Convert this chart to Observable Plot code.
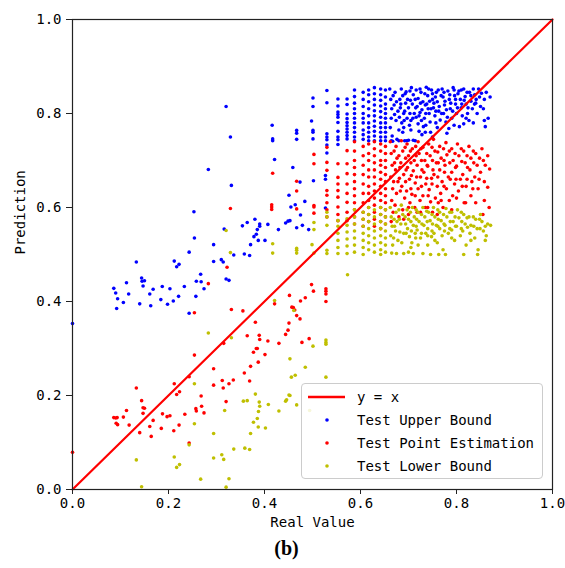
<!DOCTYPE html>
<html>
<head>
<meta charset="utf-8">
<script src="https://cdn.jsdelivr.net/npm/d3@7"></script>
<script src="https://cdn.jsdelivr.net/npm/@observablehq/plot@0.6"></script>
<style>
  body { margin: 0; background: #fff; }
  #wrap { position: relative; width: 565px; height: 568px; }
  #legend { position: absolute; left: 301px; top: 383px; width: 242px; height: 96px;
    border: 1px solid #cccccc; border-radius: 4px; background: rgba(255,255,255,0.85);
    font-family: "DejaVu Sans Mono", monospace; font-size: 14px; color: #000; box-sizing: border-box; }
  .item { position: absolute; left: 0; height: 20px; width: 240px; }
  .item svg { position: absolute; left: 0; top: 0; }
  .item span { position: absolute; left: 55px; top: 1px; line-height: 18px; white-space: pre; }
  #caption { position: absolute; left: 0; top: 537px; width: 573px; text-align: center;
    font-family: "Liberation Serif", "DejaVu Serif", serif; font-weight: bold; font-size: 20px; }
</style>
</head>
<body>
<div id="wrap"></div>
<script>
// ---- data ----
const ticks = [0, 0.2, 0.4, 0.6, 0.8, 1.0];
const identityLine = [0, 1];
const seriesNames = ["y = x", "Test Upper Bound", "Test Point Estimation", "Test Lower Bound"];
const seriesColors = ["#ff0000", "#0000ff", "#ff0000", "#bfbf00"];
const axisLabels = ["Real Value", "Prediction"];
const captionText = "(b)";

const upperBound = [
[0,0.353],
[0.086,0.428],[0.090,0.418],[0.094,0.406],[0.092,0.385],[0.106,0.398],[0.1125,0.440],[0.117,0.416],[0.133,0.484],[0.144,0.450],[0.145,0.443],[0.150,0.444],[0.147,0.433],[0.140,0.395],[0.161,0.416],[0.163,0.391],[0.168,0.426],[0.187,0.432],[0.184,0.404],[0.198,0.394],[0.203,0.427],[0.210,0.401],[0.212,0.486],[0.217,0.474],[0.222,0.479],[0.221,0.411],[0.233,0.432],[0.243,0.505],[0.243,0.375],[0.253,0.591],[0.254,0.535],[0.258,0.443],[0.257,0.411],[0.267,0.458],[0.268,0.442],[0.274,0.427],[0.283,0.681],[0.294,0.521],[0.294,0.485],[0.310,0.489],[0.314,0.484],[0.316,0.554],[0.320,0.815],[0.320,0.448],[0.326,0.445],[0.329,0.750],[0.331,0.647],[0.336,0.499],[0.354,0.561],[0.358,0.501],[0.364,0.568],[0.369,0.498],[0.371,0.521],[0.380,0.575],[0.378,0.538],[0.383,0.543],[0.385,0.553],[0.387,0.530],[0.390,0.565],[0.390,0.560],[0.401,0.530],[0.407,0.564],[0.416,0.775],[0.417,0.746],[0.417,0.742],[0.421,0.702],[0.429,0.553],[0.444,0.567],[0.449,0.571],[0.453,0.572],[0.451,0.626],[0.455,0.601],[0.464,0.606],[0.459,0.685],[0.467,0.764],[0.467,0.758],[0.467,0.745],[0.467,0.557],[0.475,0.584],[0.474,0.654],[0.479,0.562],[0.484,0.613],[0.492,0.553],[0.498,0.784],[0.501,0.833],[0.501,0.815],[0.501,0.764],[0.501,0.760],[0.501,0.746],[0.502,0.657],[0.527,0.668],[0.527,0.660],[0.527,0.599],
[0.53,0.849],[0.53,0.823],[0.53,0.757],[0.53,0.750],[0.53,0.744],[0.53,0.733],[0.53,0.716],
[0.553,0.831],[0.553,0.816],[0.553,0.803],[0.553,0.798],[0.553,0.792],[0.553,0.781],[0.553,0.762],[0.553,0.750],[0.553,0.744],[0.553,0.734],
[0.572,0.831],[0.572,0.819],[0.572,0.799],[0.572,0.789],[0.572,0.781],[0.572,0.774],[0.572,0.767],[0.572,0.760],[0.572,0.753],[0.572,0.746],
[0.5875,0.85],[0.5875,0.836],[0.5875,0.822],[0.5875,0.81],[0.5875,0.80],[0.5875,0.79],[0.5875,0.78],[0.5875,0.77],[0.5875,0.76],[0.5875,0.75],[0.5875,0.742],
[0.6056,0.845],[0.6056,0.83],[0.6056,0.815],[0.6056,0.80],[0.6056,0.79],[0.6056,0.78],[0.6056,0.765],[0.6056,0.755],[0.6056,0.745],
[0.617,0.85],[0.617,0.84],[0.617,0.825],[0.617,0.81],[0.617,0.795],[0.617,0.78],[0.617,0.77],[0.617,0.76],[0.617,0.75],[0.617,0.742],
[0.629,0.855],[0.629,0.842],[0.629,0.83],[0.629,0.818],[0.629,0.806],[0.629,0.795],[0.629,0.784],[0.629,0.773],[0.629,0.762],[0.629,0.752],[0.629,0.742],
[0.642,0.852],[0.642,0.84],[0.642,0.828],[0.642,0.816],[0.642,0.804],[0.642,0.792],[0.642,0.78],[0.642,0.77],[0.642,0.76],[0.642,0.75],[0.642,0.742],
[0.652,0.85],[0.652,0.835],[0.652,0.82],[0.652,0.81],[0.652,0.80],[0.652,0.79],[0.652,0.78],[0.652,0.77],[0.652,0.76],[0.652,0.75],[0.652,0.742],
[0.661,0.852],[0.663,0.83],[0.665,0.81],[0.664,0.79],[0.662,0.77],[0.666,0.752],[0.667,0.741],
[0.672,0.845],[0.675,0.825],[0.678,0.805],[0.674,0.785],[0.68,0.765],[0.676,0.745],
[0.685,0.852],[0.688,0.838],[0.684,0.82],[0.69,0.80],[0.686,0.78],[0.692,0.742],[0.688,0.76],
[0.695,0.846],[0.698,0.83],[0.70,0.812],[0.697,0.79],[0.702,0.775],[0.70,0.743],
[0.706,0.855],[0.71,0.84],[0.708,0.82],[0.712,0.80],[0.705,0.785],[0.714,0.742],
[0.716,0.85],[0.72,0.832],[0.718,0.815],[0.722,0.795],[0.72,0.778],
[0.726,0.845],[0.73,0.825],[0.728,0.808],[0.733,0.79],[0.731,0.772],[0.728,0.755],
[0.737,0.856],[0.74,0.838],[0.738,0.82],[0.743,0.80],[0.745,0.782],
[0.748,0.85],[0.75,0.83],[0.752,0.812],[0.755,0.795],[0.747,0.81],
[0.758,0.845],[0.76,0.825],[0.763,0.805],[0.766,0.786],[0.76,0.77],
[0.77,0.852],[0.772,0.835],[0.775,0.818],[0.773,0.80],[0.778,0.782],
[0.782,0.848],[0.785,0.83],[0.787,0.81],[0.79,0.79],[0.784,0.768],
[0.793,0.855],[0.796,0.838],[0.798,0.82],[0.80,0.80],
[0.805,0.848],[0.808,0.83],[0.81,0.812],[0.812,0.795],[0.806,0.772],
[0.815,0.852],[0.818,0.836],[0.82,0.82],[0.823,0.80],
[0.827,0.845],[0.83,0.826],[0.833,0.81],[0.826,0.785],
[0.838,0.84],[0.84,0.822],[0.843,0.80],
[0.848,0.835],[0.85,0.815],[0.846,0.852],
[0.858,0.83],[0.856,0.81],[0.862,0.845],[0.87,0.835],[0.866,0.79],[0.86,0.772],
[0.664,0.742],[0.68,0.742],[0.696,0.742],[0.71,0.743],[0.735,0.76],[0.75,0.75],[0.78,0.758],[0.835,0.78],
[0.815,0.778],[0.858,0.785],[0.8375,0.82],[0.746,0.760],
[0.668,0.838],[0.67,0.818],[0.671,0.798],[0.682,0.83],[0.683,0.812],[0.681,0.792],[0.693,0.842],[0.694,0.822],[0.692,0.805],[0.691,0.785],[0.703,0.848],[0.704,0.828],[0.703,0.8],[0.709,0.79],[0.714,0.83],[0.715,0.812],[0.716,0.792],[0.724,0.852],[0.725,0.822],[0.724,0.802],[0.727,0.785],[0.734,0.842],[0.735,0.818],[0.736,0.8],[0.742,0.852],[0.744,0.826],[0.741,0.81],[0.75,0.842],[0.753,0.822],[0.757,0.805],[0.756,0.835],[0.762,0.85],[0.764,0.815],[0.768,0.838],[0.769,0.80],[0.774,0.845],[0.776,0.826],[0.779,0.808],[0.781,0.792],[0.786,0.84],[0.788,0.822],[0.792,0.805],[0.795,0.85],[0.798,0.83],[0.802,0.812],[0.803,0.842],[0.81,0.85],[0.811,0.82],[0.816,0.828],[0.822,0.845],[0.824,0.812],[0.83,0.838],[0.835,0.852],[0.841,0.83],[0.852,0.843],[0.736,0.775],[0.757,0.78],[0.795,0.775],[0.82,0.79],[0.705,0.765],[0.69,0.77],[0.722,0.762]
];

const pointEstimation = [
[0,0.079],[0.086,0.153],[0.090,0.152],[0.093,0.153],[0.091,0.141],[0.094,0.138],[0.106,0.154],[0.1125,0.168],[0.118,0.137],[0.133,0.216],[0.140,0.121],[0.144,0.189],[0.147,0.174],[0.150,0.173],[0.147,0.162],[0.161,0.134],[0.164,0.113],[0.168,0.147],[0.185,0.130],[0.1875,0.161],[0.197,0.155],[0.203,0.157],[0.211,0.125],[0.212,0.225],[0.217,0.202],[0.223,0.208],[0.222,0.137],[0.234,0.160],[0.243,0.240],[0.243,0.099],[0.254,0.376],[0.254,0.286],[0.257,0.172],[0.258,0.167],[0.268,0.199],[0.269,0.177],[0.274,0.163],[0.283,0.438],[0.294,0.257],[0.294,0.222],[0.312,0.232],[0.314,0.216],[0.315,0.311],[0.320,0.187],[0.322,0.473],[0.326,0.225],[0.331,0.383],[0.335,0.233],[0.355,0.380],[0.358,0.248],[0.364,0.327],[0.369,0.231],[0.371,0.262],[0.377,0.292],[0.381,0.356],[0.383,0.300],[0.385,0.300],[0.387,0.271],[0.389,0.328],[0.390,0.319],[0.401,0.287],[0.407,0.316],[0.421,0.395],[0.430,0.311],[0.444,0.330],[0.449,0.339],[0.451,0.354],[0.452,0.413],[0.457,0.388],[0.460,0.387],[0.463,0.382],[0.467,0.370],[0.474,0.363],[0.475,0.401],[0.478,0.313],[0.485,0.408],[0.493,0.321],[0.498,0.436],[0.502,0.422],[0.528,0.427],[0.528,0.422],[0.528,0.416],[0.528,0.400],
[0.329,0.598],[0.417,0.673],[0.415,0.606],[0.415,0.601],[0.415,0.596],[0.467,0.656],[0.467,0.635],[0.467,0.597],[0.503,0.713],[0.503,0.693],[0.503,0.604],[0.503,0.601],[0.503,0.588],
[0.53,0.728],[0.53,0.696],[0.53,0.679],[0.53,0.636],[0.53,0.626],[0.53,0.61],[0.53,0.595],[0.53,0.58],
[0.553,0.693],[0.553,0.664],[0.553,0.650],[0.553,0.636],[0.553,0.622],[0.553,0.601],[0.553,0.585],[0.553,0.572],
[0.572,0.721],[0.572,0.693],[0.572,0.672],[0.572,0.650],[0.572,0.630],[0.572,0.611],[0.572,0.590],[0.572,0.572],
[0.5875,0.74],[0.5875,0.72],[0.5875,0.70],[0.5875,0.685],[0.5875,0.67],[0.5875,0.655],[0.5875,0.64],[0.5875,0.625],[0.5875,0.61],[0.5875,0.595],[0.5875,0.58],[0.5875,0.565],
[0.6056,0.73],[0.6056,0.71],[0.6056,0.69],[0.6056,0.67],[0.6056,0.65],[0.6056,0.63],[0.6056,0.61],[0.6056,0.59],[0.6056,0.575],[0.6056,0.56],
[0.617,0.735],[0.617,0.715],[0.617,0.70],[0.617,0.68],[0.617,0.665],[0.617,0.645],[0.617,0.63],[0.617,0.615],[0.617,0.60],[0.617,0.585],[0.617,0.57],
[0.629,0.74],[0.629,0.725],[0.629,0.71],[0.629,0.695],[0.629,0.68],[0.629,0.665],[0.629,0.65],[0.629,0.635],[0.629,0.62],[0.629,0.605],[0.629,0.59],[0.629,0.575],[0.629,0.56],
[0.642,0.735],[0.642,0.72],[0.642,0.70],[0.642,0.69],[0.642,0.675],[0.642,0.66],[0.642,0.645],[0.642,0.63],[0.642,0.615],[0.642,0.60],[0.642,0.585],[0.642,0.57],[0.642,0.555],
[0.652,0.73],[0.652,0.715],[0.652,0.70],[0.652,0.685],[0.652,0.67],[0.652,0.655],[0.652,0.64],[0.652,0.625],[0.652,0.61],[0.652,0.595],[0.652,0.58],[0.652,0.565],
[0.662,0.74],[0.664,0.715],[0.666,0.69],[0.663,0.665],[0.667,0.64],[0.665,0.615],[0.668,0.59],[0.664,0.57],
[0.674,0.73],[0.676,0.705],[0.673,0.68],[0.678,0.655],[0.675,0.63],[0.672,0.605],[0.68,0.58],
[0.685,0.742],[0.688,0.72],[0.684,0.695],[0.69,0.67],[0.686,0.645],[0.692,0.62],[0.688,0.595],[0.69,0.575],
[0.697,0.735],[0.70,0.71],[0.698,0.685],[0.702,0.66],[0.696,0.635],[0.703,0.61],[0.70,0.585],
[0.708,0.725],[0.712,0.70],[0.71,0.678],[0.714,0.652],[0.707,0.628],[0.713,0.60],
[0.72,0.74],[0.722,0.715],[0.718,0.69],[0.725,0.665],[0.72,0.64],[0.724,0.615],[0.718,0.59],
[0.73,0.728],[0.734,0.70],[0.732,0.675],[0.736,0.65],[0.73,0.625],[0.735,0.60],
[0.742,0.735],[0.745,0.71],[0.74,0.688],[0.748,0.662],[0.743,0.638],[0.746,0.612],
[0.752,0.745],[0.755,0.72],[0.758,0.695],[0.753,0.67],[0.76,0.645],[0.756,0.62],[0.75,0.59],
[0.765,0.73],[0.768,0.705],[0.765,0.68],[0.77,0.655],[0.767,0.63],[0.772,0.60],
[0.778,0.738],[0.78,0.712],[0.776,0.69],[0.783,0.665],[0.779,0.64],[0.785,0.615],
[0.79,0.725],[0.793,0.70],[0.79,0.675],[0.796,0.65],[0.792,0.625],
[0.802,0.735],[0.805,0.71],[0.80,0.688],[0.808,0.66],[0.804,0.635],
[0.815,0.72],[0.818,0.695],[0.813,0.67],[0.82,0.645],[0.816,0.61],
[0.826,0.73],[0.83,0.705],[0.828,0.68],[0.832,0.655],
[0.84,0.715],[0.843,0.69],[0.838,0.665],[0.845,0.64],
[0.853,0.725],[0.856,0.70],[0.85,0.675],[0.858,0.655],
[0.865,0.71],[0.869,0.682],[0.865,0.643],[0.868,0.60],
[0.76,0.585],[0.79,0.595],[0.819,0.61],[0.858,0.615],[0.84,0.61],[0.855,0.585],
[0.67,0.72],[0.671,0.695],[0.669,0.655],[0.68,0.71],[0.682,0.685],[0.681,0.662],[0.683,0.635],[0.693,0.728],[0.694,0.705],[0.695,0.68],[0.694,0.655],[0.704,0.72],[0.705,0.695],[0.706,0.668],[0.705,0.64],[0.715,0.73],[0.716,0.71],[0.717,0.665],[0.714,0.625],[0.726,0.725],[0.727,0.7],[0.728,0.68],[0.727,0.645],[0.738,0.715],[0.739,0.69],[0.738,0.662],[0.741,0.625],[0.749,0.728],[0.75,0.70],[0.751,0.68],[0.749,0.65],[0.761,0.718],[0.762,0.695],[0.761,0.665],[0.762,0.61],[0.773,0.725],[0.774,0.7],[0.775,0.675],[0.774,0.645],[0.785,0.72],[0.786,0.695],[0.787,0.66],[0.797,0.715],[0.798,0.685],[0.799,0.66],[0.81,0.725],[0.811,0.698],[0.812,0.645],[0.822,0.71],[0.823,0.685],[0.822,0.66],[0.835,0.72],[0.836,0.695],[0.834,0.64],[0.848,0.705],[0.847,0.66],[0.86,0.69],[0.7,0.6],[0.725,0.59],[0.74,0.6],[0.768,0.615],[0.8,0.62],[0.83,0.625]
];

const lowerBound = [
[0.133,0.063],[0.144,0.006],[0.212,0.069],[0.217,0.047],[0.223,0.053],[0.243,0.095],[0.254,0.225],[0.254,0.140],[0.267,0.022],[0.283,0.333],[0.294,0.119],[0.294,0.067],[0.311,0.074],[0.315,0.064],[0.317,0.168],[0.326,0.023],[0.331,0.323],[0.336,0.086],[0.356,0.188],[0.364,0.189],[0.359,0.088],[0.369,0.085],[0.371,0.119],[0.377,0.143],[0.381,0.203],[0.385,0.151],[0.3875,0.166],[0.390,0.177],[0.389,0.186],[0.387,0.133],[0.402,0.131],[0.408,0.181],[0.421,0.402],[0.430,0.167],[0.444,0.188],[0.451,0.201],[0.453,0.278],[0.456,0.239],[0.464,0.243],[0.461,0.381],[0.467,0.180],[0.485,0.260],[0.494,0.168],[0.573,0.457],[0.528,0.318],[0.528,0.313],[0.528,0.309],[0.501,0.305],[0.528,0.239],[0.453,0.200],[0.446,0.191],[0.320,0.005],
[0.320,0.551],[0.329,0.504],[0.417,0.523],[0.417,0.503],[0.467,0.513],[0.467,0.509],[0.467,0.503],[0.499,0.521],[0.503,0.568],[0.503,0.553],[0.503,0.503],
[0.53,0.590],[0.53,0.580],[0.53,0.562],[0.53,0.509],[0.53,0.502],
[0.553,0.572],[0.553,0.560],[0.553,0.545],[0.553,0.530],[0.553,0.515],[0.553,0.502],
[0.572,0.576],[0.572,0.562],[0.572,0.548],[0.572,0.533],[0.572,0.518],[0.572,0.502],
[0.5875,0.595],[0.5875,0.58],[0.5875,0.565],[0.5875,0.55],[0.5875,0.535],[0.5875,0.52],[0.5875,0.505],
[0.6056,0.59],[0.6056,0.575],[0.6056,0.56],[0.6056,0.545],[0.6056,0.53],[0.6056,0.515],[0.6056,0.50],
[0.617,0.60],[0.617,0.585],[0.617,0.57],[0.617,0.555],[0.617,0.54],[0.617,0.525],[0.617,0.51],
[0.629,0.595],[0.629,0.58],[0.629,0.565],[0.629,0.55],[0.629,0.535],[0.629,0.52],[0.629,0.505],
[0.642,0.60],[0.642,0.585],[0.642,0.57],[0.642,0.555],[0.642,0.54],[0.642,0.525],[0.642,0.51],[0.642,0.50],
[0.652,0.595],[0.652,0.58],[0.652,0.565],[0.652,0.55],[0.652,0.535],[0.652,0.52],[0.652,0.505],
[0.662,0.60],[0.664,0.58],[0.666,0.56],[0.663,0.54],[0.667,0.52],[0.665,0.503],
[0.674,0.59],[0.676,0.57],[0.673,0.55],[0.678,0.53],[0.675,0.502],
[0.685,0.605],[0.688,0.585],[0.684,0.565],[0.69,0.545],[0.686,0.525],[0.69,0.502],
[0.697,0.595],[0.70,0.575],[0.698,0.555],[0.702,0.538],[0.70,0.505],
[0.708,0.60],[0.712,0.58],[0.71,0.562],[0.714,0.545],[0.707,0.525],[0.71,0.502],
[0.72,0.59],[0.722,0.57],[0.718,0.552],[0.725,0.535],[0.73,0.502],
[0.73,0.60],[0.734,0.58],[0.732,0.562],[0.736,0.545],[0.74,0.52],
[0.742,0.59],[0.745,0.572],[0.74,0.555],[0.748,0.538],
[0.752,0.60],[0.755,0.58],[0.758,0.562],[0.753,0.545],[0.76,0.525],
[0.765,0.59],[0.768,0.572],[0.765,0.555],[0.77,0.54],[0.772,0.51],
[0.778,0.598],[0.78,0.58],[0.776,0.562],[0.783,0.545],
[0.79,0.59],[0.793,0.57],[0.79,0.552],[0.796,0.53],
[0.802,0.595],[0.805,0.578],[0.80,0.56],[0.808,0.54],
[0.815,0.585],[0.818,0.565],[0.813,0.55],[0.82,0.52],
[0.826,0.58],[0.83,0.562],[0.828,0.545],
[0.84,0.575],[0.843,0.555],[0.838,0.535],[0.845,0.51],
[0.853,0.57],[0.856,0.55],[0.85,0.585],
[0.865,0.565],[0.871,0.562],[0.862,0.54],
[0.746,0.50],[0.763,0.50],[0.777,0.50],[0.815,0.50],[0.844,0.50],
[0.67,0.575],[0.671,0.56],[0.669,0.535],[0.68,0.595],[0.681,0.575],[0.682,0.548],[0.693,0.58],[0.694,0.565],[0.695,0.545],[0.704,0.59],[0.705,0.57],[0.706,0.55],[0.716,0.595],[0.717,0.575],[0.716,0.56],[0.715,0.535],[0.727,0.585],[0.728,0.565],[0.727,0.545],[0.738,0.592],[0.739,0.57],[0.74,0.54],[0.749,0.585],[0.75,0.565],[0.749,0.55],[0.761,0.595],[0.762,0.575],[0.761,0.56],[0.773,0.585],[0.774,0.565],[0.775,0.55],[0.786,0.59],[0.787,0.57],[0.786,0.555],[0.797,0.58],[0.798,0.56],[0.81,0.59],[0.811,0.57],[0.81,0.555],[0.822,0.578],[0.823,0.558],[0.835,0.58],[0.836,0.56],[0.848,0.575],[0.849,0.555],[0.86,0.56],[0.72,0.52],[0.755,0.53],[0.79,0.535],[0.83,0.53],[0.86,0.53],[0.705,0.515]
];

// ---- chart ----
const font = "'DejaVu Sans Mono', monospace";
const dotOpts = (color) => ({x: d => d[0], y: d => d[1], r: 1.8, fill: color, stroke: "none"});

const chart = Plot.plot({
  width: 565,
  height: 537,
  marginLeft: 72,
  marginRight: 13,
  marginTop: 19,
  marginBottom: 48,
  style: {fontFamily: font, fontSize: "14px", color: "#000", background: "#fff", overflow: "visible"},
  x: {domain: [0, 1], label: null},
  y: {domain: [0, 1], label: null},
  marks: [
    Plot.dot(upperBound, dotOpts(seriesColors[1])),
    Plot.dot(pointEstimation, dotOpts(seriesColors[2])),
    Plot.dot(lowerBound, dotOpts(seriesColors[3])),
    Plot.line(identityLine, {x: d => d, y: d => d, stroke: seriesColors[0], strokeWidth: 2.2}),
    Plot.frame({stroke: "#222", strokeWidth: 1.2}),
    Plot.axisX({ticks, tickFormat: d3.format(".1f"), tickSize: 5, tickPadding: 4, label: null, fontSize: 14, stroke: "#222"}),
    Plot.axisY({ticks, tickFormat: d3.format(".1f"), tickSize: 6, tickPadding: 5, label: null, fontSize: 14, stroke: "#222"}),
    Plot.text([axisLabels[0]], {text: d => d, frameAnchor: "bottom", dy: 37, fontSize: 14}),
    Plot.text([axisLabels[1]], {text: d => d, frameAnchor: "left", dx: -52, rotate: -90, fontSize: 14})
  ]
});

const wrap = document.getElementById("wrap");
chart.style.position = "absolute";
chart.style.left = "0px";
chart.style.top = "0px";
wrap.appendChild(chart);

// legend
const legend = document.createElement("div");
legend.id = "legend";
seriesNames.forEach((name, i) => {
  const item = document.createElement("div");
  item.className = "item";
  item.style.top = (3 + i * 23) + "px";
  const sw = i === 0
    ? `<svg width="50" height="20"><line x1="6" x2="43" y1="10" y2="10" stroke="${seriesColors[0]}" stroke-width="2.5"/></svg>`
    : `<svg width="50" height="20"><circle cx="25" cy="10" r="1.8" fill="${seriesColors[i]}"/></svg>`;
  item.innerHTML = sw + `<span>${name}</span>`;
  legend.appendChild(item);
});
wrap.appendChild(legend);

const cap = document.createElement("div");
cap.id = "caption";
cap.textContent = captionText;
wrap.appendChild(cap);
</script>
</body>
</html>
